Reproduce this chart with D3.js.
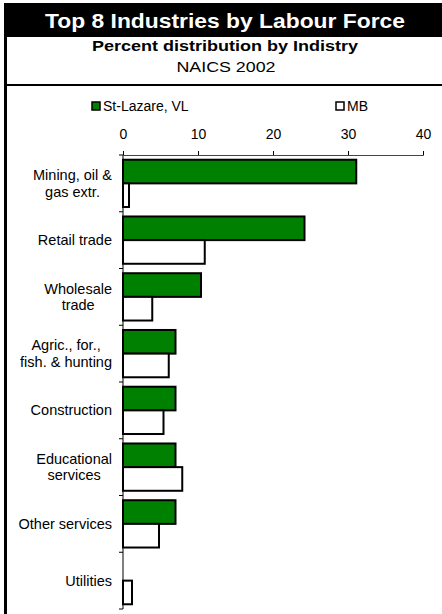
<!DOCTYPE html>
<html lang="en">
<head>
    <meta charset="UTF-8">
    <title>Top 8 Industries by Labour Force</title>
    <script src="https://d3js.org/d3.v7.min.js"></script>
    <style>
        body {
            margin: 0;
            background: #fff;
            font-family: Arial, "Liberation Sans", sans-serif;
        }
        svg text { fill: #000; }
    </style>
</head>
<body>
    <div id="chart"></div>

    <script>
        // data
        const industries = [
            ["Mining, oil &", "gas extr."],
            ["Retail trade"],
            ["Wholesale", "trade"],
            ["Agric., for.,", "fish. & hunting"],
            ["Construction"],
            ["Educational", "services"],
            ["Other services"],
            ["Utilities"]
        ];
        const stLazare = [31.1, 24.2, 10.4, 7.0, 7.0, 7.0, 7.0, 0];
        const mb = [0.8, 10.9, 3.9, 6.1, 5.4, 7.9, 4.8, 1.2];
        const seriesNames = ["St-Lazare, VL", "MB"];
        const seriesColors = ["#008000", "#ffffff"];
        const xTicks = [0, 10, 20, 30, 40];

        const width = 442, height = 614;
        const margin = { top: 155, right: 19, bottom: 5, left: 123 };

        const svg = d3.select("#chart").append("svg")
            .attr("width", width)
            .attr("height", height);

        // frame + title block
        svg.append("rect").attr("x", 4).attr("y", 3).attr("width", 3).attr("height", height - 3).attr("fill", "#000");
        svg.append("rect").attr("x", 4).attr("y", 3).attr("width", width - 4).attr("height", 34).attr("fill", "#000");
        svg.append("rect").attr("x", 4).attr("y", 84).attr("width", width - 4).attr("height", 2).attr("fill", "#000");

        // titles are a bit wider than plain Arial, stretch them slightly
        svg.append("text")
            .attr("x", 225).attr("y", 27.5)
            .attr("text-anchor", "middle")
            .attr("textLength", 360).attr("lengthAdjust", "spacingAndGlyphs")
            .style("fill", "#fff")
            .style("font-size", "20.5px")
            .style("font-weight", "bold")
            .text("Top 8 Industries by Labour Force");
        svg.append("text")
            .attr("x", 225).attr("y", 51)
            .attr("text-anchor", "middle")
            .attr("textLength", 266).attr("lengthAdjust", "spacingAndGlyphs")
            .style("font-size", "15px")
            .style("font-weight", "bold")
            .text("Percent distribution by Indistry");
        svg.append("text")
            .attr("x", 226).attr("y", 72)
            .attr("text-anchor", "middle")
            .attr("textLength", 99).attr("lengthAdjust", "spacingAndGlyphs")
            .style("font-size", "15px")
            .text("NAICS 2002");

        // legend
        const legendX = [92, 336];
        seriesNames.forEach((name, i) => {
            svg.append("rect")
                .attr("x", legendX[i]).attr("y", 102)
                .attr("width", 8).attr("height", 8)
                .attr("fill", seriesColors[i])
                .attr("stroke", "#000").attr("stroke-width", 1.5);
            svg.append("text")
                .attr("x", legendX[i] + 11).attr("y", 111)
                .style("font-size", "14px")
                .text(name);
        });

        const innerW = width - margin.left - margin.right;
        const innerH = height - margin.top - margin.bottom;

        const x = d3.scaleLinear().domain([0, 40]).range([0, innerW]);
        const y = d3.scaleBand().domain(d3.range(industries.length)).range([0, innerH]);
        const sub = d3.scaleBand().domain([0, 1]).range([0, y.bandwidth()]).paddingOuter(0.2).paddingInner(0);

        const g = svg.append("g").attr("transform", `translate(${margin.left},${margin.top})`);

        // top axis
        const xAxis = g.append("g")
            .call(d3.axisTop(x).tickValues(xTicks).tickSize(4).tickPadding(12).tickFormat(d3.format("d")));
        xAxis.select(".domain").attr("stroke", "#444");
        xAxis.selectAll("line").attr("stroke", "#000");
        xAxis.selectAll("text").style("font-size", "14px").style("font-family", "Arial, 'Liberation Sans', sans-serif");

        // bars
        const rows = industries.map((lab, i) => ({ i, vals: [stLazare[i], mb[i]] }));
        const row = g.selectAll(".row").data(rows).enter().append("g")
            .attr("transform", d => `translate(0,${y(d.i)})`);
        row.selectAll("rect")
            .data(d => d.vals.map((v, s) => ({ v, s })).filter(e => e.v > 0))
            .enter().append("rect")
            .attr("x", x(0))
            .attr("y", d => sub(d.s))
            .attr("width", d => x(d.v) - x(0))
            .attr("height", sub.bandwidth())
            .attr("fill", d => seriesColors[d.s])
            .attr("stroke", "#000")
            .attr("stroke-width", 2);

        // left axis with band ticks
        g.append("line").attr("x1", 0).attr("x2", 0).attr("y1", 0).attr("y2", innerH).attr("stroke", "#000");
        g.selectAll(".ytick").data(d3.range(industries.length + 1)).enter().append("line")
            .attr("x1", -4).attr("x2", 0)
            .attr("y1", d => d * y.step()).attr("y2", d => d * y.step())
            .attr("stroke", "#000");

        // category labels (lines centered with each other, block right-aligned)
        const lineH = 16.5;
        industries.forEach((lines, i) => {
            const lg = g.append("g");
            const texts = lines.map((t, k) => lg.append("text")
                .attr("text-anchor", "middle")
                .attr("y", y(i) + y.bandwidth() / 2 + (k - (lines.length - 1) / 2) * lineH)
                .attr("dy", "0.35em")
                .style("font-size", "14.5px")
                .text(t));
            const maxW = d3.max(texts, t => t.node().getComputedTextLength());
            texts.forEach(t => t.attr("x", -11 - maxW / 2));
        });
    </script>
</body>
</html>
